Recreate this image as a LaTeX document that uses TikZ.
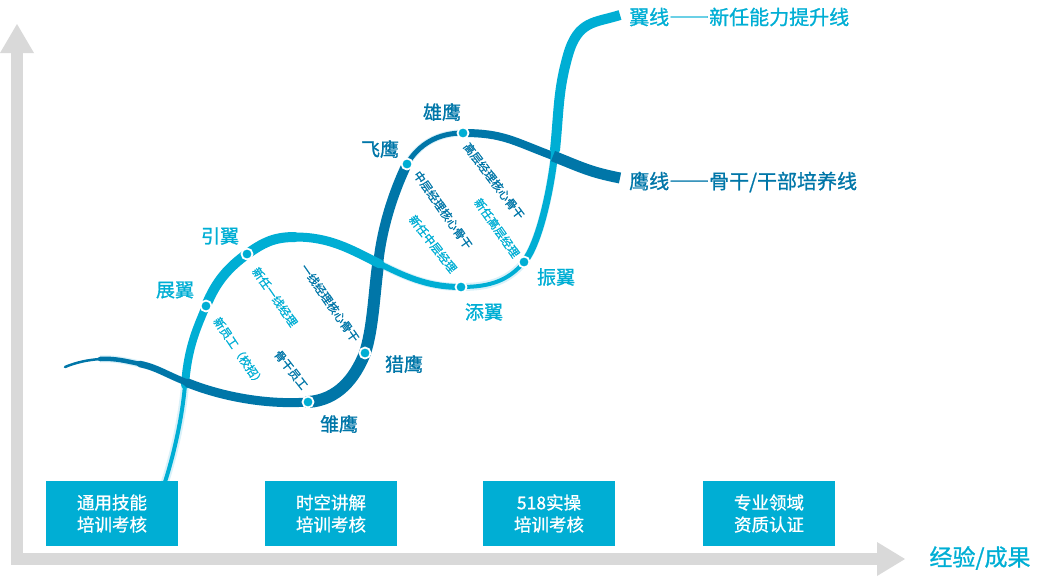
\documentclass[tikz,border=0pt]{standalone}
\usepackage{fontspec}
\setmainfont{Noto Sans CJK SC}[FakeBold=1]
\usetikzlibrary{positioning}
\definecolor{wingc}{RGB}{0,174,212}
\definecolor{eaglec}{RGB}{0,118,168}
\definecolor{shadec}{RGB}{218,241,249}
\definecolor{axisc}{RGB}{217,217,217}
\newcommand\fwdash{{\addfontfeature{RawFeature=+fwid}——}}
\def\wingpath{(w0) .. controls +(8,-25) and +(-3,35) .. (w1) .. controls +(3,-40) and +(-8,20) .. (wZhan) .. controls +(10,-25) and +(-18,13) .. (wYin) .. controls +(16,-11) and +(-22,0) .. (w2) .. controls +(35,0) and +(-30,-15) .. (w3) .. controls +(30,15) and +(-30,0) .. (wTian) .. controls +(30,0) and +(-15,18) .. (wZhen) .. controls +(15,-18) and +(-4,40) .. (w4) .. controls +(4,-40) and +(-10,35) .. (w5) .. controls +(10,-35) and +(-25,8) .. (w6)}
\def\eaglepath{(da) .. controls +(14,-1) and +(-14,-3) .. (d1) .. controls +(18,4) and +(-25,-10) .. (d2) .. controls +(35,14) and +(-40,3) .. (dChu) .. controls +(30,-2) and +(-10,25) .. (dLie) .. controls +(8,-25) and +(-4,30) .. (d3) .. controls +(4,-40) and +(-12,25) .. (dFei) .. controls +(12,-20) and +(-25,0) .. (dXiong) .. controls +(40,0) and +(-40,-15) .. (d4) .. controls +(30,12) and +(-30,-6) .. (d5)}

\begin{document}
\begin{tikzpicture}[x=1pt,y=-1pt,
	wing/.style={draw=wingc,line width=#1,line cap=round},
	eagle/.style={draw=eaglec,line width=#1,line cap=round},
	dot/.style={circle,fill=wingc,draw=white,line width=1.8pt,inner sep=0pt,minimum size=11pt},
	lbl/.style={text=#1,inner sep=0pt,font=\fontsize{19}{19}\selectfont},
	tag/.style={text=#1,inner sep=0pt,font=\fontsize{11.5}{11.5}\selectfont},
	box/.style={fill=wingc,text=white,align=center,minimum width=132pt,minimum height=65pt,inner sep=0pt,font=\fontsize{17.5}{22}\selectfont}]
			%%%%% START %%%%%
			
			\useasboundingbox (0,0) rectangle (1048,576);
			
			\fill[axisc] (11,53) rectangle (23,565);
			\fill[axisc] (0,53) -- (17,24) -- (34,53) -- cycle;
			\fill[axisc] (11,553) rectangle (877,565);
			\fill[axisc] (877,542) -- (905,559) -- (877,576) -- cycle;
			
			\coordinate (w0) at (165,482);
			\coordinate (w1) at (185,385);
			\coordinate (wZhan) at (206,306);
			\coordinate (wYin) at (247,254);
			\coordinate (w2) at (295,237);
			\coordinate (w3) at (380,264);
			\coordinate (wTian) at (461,287);
			\coordinate (wZhen) at (524,262);
			\coordinate (w4) at (555,150);
			\coordinate (w5) at (568,55);
			\coordinate (w6) at (620,15);
			
			\coordinate (d0) at (65,367);
			\coordinate (da) at (100,359);
			\coordinate (d1) at (140,364);
			\coordinate (d2) at (188,383);
			\coordinate (dChu) at (308,402);
			\coordinate (dLie) at (365,353);
			\coordinate (d3) at (378,265);
			\coordinate (dFei) at (407,164);
			\coordinate (dXiong) at (463,133);
			\coordinate (d4) at (553,156);
			\coordinate (d5) at (620,178);
			
			\begin{scope}[shift={(3,3)}]
				\draw[draw=shadec,line width=8pt] \wingpath;
				\draw[draw=shadec,line width=7pt] \eaglepath;
			\end{scope}
			
			\draw[eagle=10pt] (d3) .. controls +(4,-40) and +(-12,25) .. (dFei);
			\draw[eagle=5pt] (dFei) .. controls +(12,-20) and +(-25,0) .. (dXiong);
			\draw[eagle=8pt] (dXiong) .. controls +(40,0) and +(-40,-15) .. (d4);
			\draw[eagle=12pt] (dChu) .. controls +(30,-2) and +(-10,25) .. (dLie);
			\draw[eagle=12pt] (dLie) .. controls +(8,-25) and +(-4,30) .. (d3);
			
			\draw[wing=4pt] (w0) .. controls +(8,-25) and +(-3,35) .. (w1);
			\draw[wing=8pt] (w1) .. controls +(3,-40) and +(-8,20) .. (wZhan);
			\draw[wing=10pt] (wZhan) .. controls +(10,-25) and +(-18,13) .. (wYin);
			\draw[wing=10pt] (wYin) .. controls +(16,-11) and +(-22,0) .. (w2);
			\draw[wing=9pt] (w2) .. controls +(35,0) and +(-30,-15) .. (w3);
			\draw[wing=6pt] (w3) .. controls +(30,15) and +(-30,0) .. (wTian);
			\draw[wing=4pt] (wTian) .. controls +(30,0) and +(-15,18) .. (wZhen);
			\draw[wing=7pt] (wZhen) .. controls +(15,-18) and +(-4,40) .. (w4);
			\draw[wing=10pt] (w4) .. controls +(4,-40) and +(-10,35) .. (w5);
			\draw[wing=10pt,line cap=butt] (w5) .. controls +(10,-35) and +(-25,8) .. (w6);
			
			\draw[eagle=2.5pt] (d0) .. controls +(12,-5) and +(-12,1) .. (da);
			\draw[eagle=4.5pt] (da) .. controls +(14,-1) and +(-14,-3) .. (d1);
			\draw[eagle=6.5pt] (d1) .. controls +(18,4) and +(-25,-10) .. (d2);
			\draw[eagle=9pt] (d2) .. controls +(35,14) and +(-40,3) .. (dChu);
			\draw[eagle=11pt,line cap=butt] (d4) .. controls +(30,12) and +(-30,-6) .. (d5);
			
			\node[dot] (pZhan) at (wZhan) {};
			\node[dot] (pYin) at (wYin) {};
			\node[dot] (pTian) at (wTian) {};
			\node[dot] (pZhen) at (wZhen) {};
			\node[dot] (pChu) at (dChu) {};
			\node[dot] (pLie) at (dLie) {};
			\node[dot] (pFei) at (dFei) {};
			\node[dot] (pXiong) at (dXiong) {};
			
			\node[lbl=eaglec] (lXiong) at (442,112) {雄鹰};
			\node[lbl=eaglec] (lFei) at (380,149) {飞鹰};
			\node[lbl=eaglec] (lLie) at (404,364) {猎鹰};
			\node[lbl=eaglec] (lChu) at (339,424) {雏鹰};
			\node[lbl=wingc] (lYin) at (220,236) {引翼};
			\node[lbl=wingc] (lZhan) at (175,290) {展翼};
			\node[lbl=wingc] (lTian) at (484,312) {添翼};
			\node[lbl=wingc] (lZhen) at (556,277) {振翼};
			
			\node[lbl=wingc,anchor=west,font=\fontsize{20}{20}\selectfont] (lWingLine) at (629,17) {翼线\fwdash 新任能力提升线};
			\node[lbl=eaglec,anchor=west,font=\fontsize{20}{20}\selectfont] (lEagleLine) at (629,182) {鹰线\fwdash 骨干/干部培养线};
			
			\node[tag=wingc,rotate=-55] (tNewFirst) at (275,297) {新任一线经理};
			\node[tag=wingc,rotate=-56] (tNewStaff) at (239,352) {新员工（校招）};
			\node[tag=eaglec,rotate=-55] (tFirstCore) at (330,303) {一线经理核心骨干};
			\node[tag=eaglec,rotate=-52] (tCoreStaff) at (291,370) {骨干员工};
			\node[tag=eaglec,rotate=-55] (tMidCore) at (443,210) {中层经理核心骨干};
			\node[tag=wingc,rotate=-52] (tNewMid) at (433,244) {新任中层经理};
			\node[tag=eaglec,rotate=-53] (tTopCore) at (494,181) {高层经理核心骨干};
			\node[tag=wingc,rotate=-55] (tNewTop) at (497,228) {新任高层经理};
			
			\node[box] (bxGeneral) at (112,513.5) {通用技能\\培训考核};
			\node[box] (bxSpace) at (331,513.5) {时空讲解\\培训考核};
			\node[box] (bxPractice) at (549,513.5) {518实操\\培训考核};
			\node[box] (bxExpert) at (769,513.5) {专业领域\\资质认证};
			
			\node[lbl=wingc,font=\fontsize{23}{23}\selectfont] (lAxis) at (980,558) {经验/成果};
			
			%%%%% END %%%%%
		\end{tikzpicture}
\end{document}
